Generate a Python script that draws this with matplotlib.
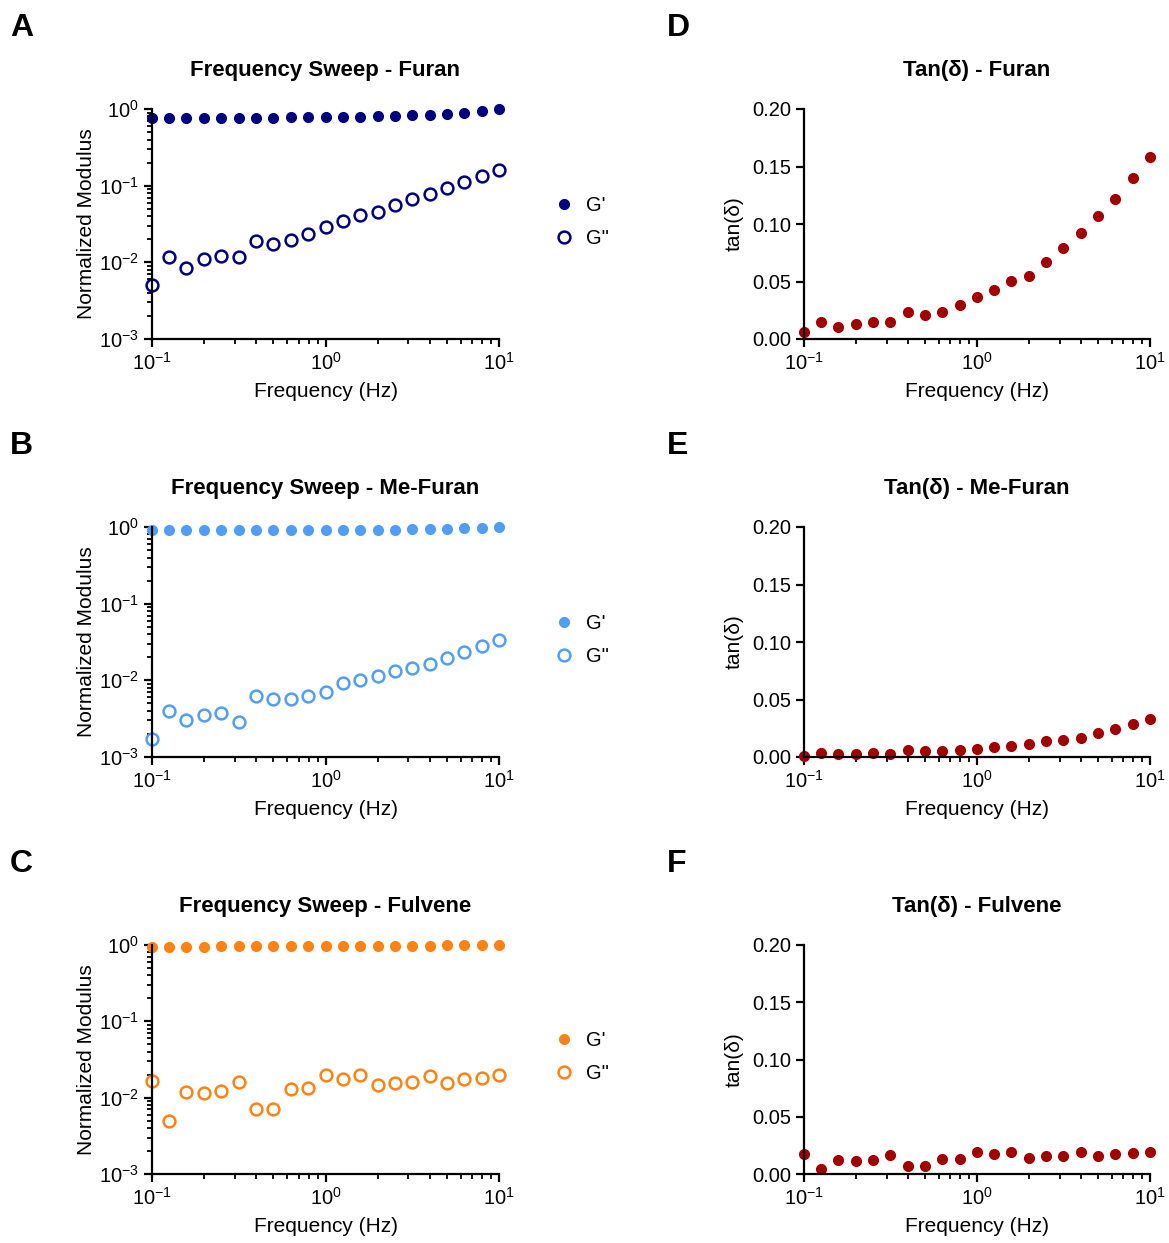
import matplotlib
matplotlib.use("Agg")
from matplotlib import pyplot as plt
from matplotlib import ticker

plt.rcParams['font.family'] = ['Liberation Sans', 'DejaVu Sans']
plt.rcParams['mathtext.fontset'] = 'custom'
plt.rcParams['mathtext.rm'] = 'Liberation Sans'
plt.rcParams['mathtext.it'] = 'Liberation Sans:italic'
plt.rcParams['axes.unicode_minus'] = False

# frequencies (Hz), 10 points per decade
freq = [0.1, 0.126, 0.158, 0.2, 0.251, 0.316, 0.398, 0.501, 0.631, 0.794,
        1.0, 1.26, 1.58, 2.0, 2.51, 3.16, 3.98, 5.01, 6.31, 7.94, 10.0]

# normalized storage / loss moduli
furan_g1 = [0.762, 0.762, 0.762, 0.762, 0.762, 0.762, 0.762, 0.762, 0.778, 0.778,
            0.786, 0.786, 0.794, 0.80, 0.818, 0.83, 0.843, 0.860, 0.886, 0.942, 1.0]
furan_g2 = [0.00513, 0.0119, 0.00849, 0.0111, 0.0122, 0.0119, 0.0189, 0.0171, 0.0193, 0.0236,
            0.0292, 0.0343, 0.0410, 0.0449, 0.0560, 0.0665, 0.0773, 0.0925, 0.110, 0.132, 0.158]
mefuran_g1 = [0.905, 0.905, 0.905, 0.905, 0.905, 0.905, 0.905, 0.905, 0.905, 0.905,
              0.905, 0.914, 0.914, 0.914, 0.923, 0.932, 0.941, 0.950, 0.960, 0.98, 1.0]
mefuran_g2 = [0.00173, 0.00403, 0.00308, 0.00354, 0.00372, 0.00287, 0.00621, 0.00567, 0.00567, 0.00621,
              0.00701, 0.00919, 0.00996, 0.01124, 0.01306, 0.01445, 0.01645, 0.01971, 0.02316, 0.02774, 0.0339]
fulvene_g1 = [0.932, 0.941, 0.950, 0.950, 0.960, 0.960, 0.960, 0.969, 0.969, 0.969,
              0.969, 0.969, 0.969, 0.969, 0.980, 0.980, 0.980, 0.99, 0.99, 0.99, 0.99]
fulvene_g2 = [0.01644, 0.00493, 0.01193, 0.01146, 0.01230, 0.01613, 0.00708, 0.00715, 0.01306, 0.01333,
              0.01972, 0.01766, 0.01972, 0.01445, 0.01534, 0.01597, 0.01933, 0.01534, 0.01766, 0.01837, 0.01972]

# tan(delta)
furan_tan = [0.0061, 0.0149, 0.0102, 0.0134, 0.0149, 0.0146, 0.0239, 0.0213, 0.0239, 0.0292,
             0.0364, 0.0426, 0.0504, 0.0551, 0.0673, 0.0793, 0.0918, 0.1067, 0.1219, 0.1402, 0.1586]
mefuran_tan = [0.0009, 0.0035, 0.0024, 0.0029, 0.0035, 0.0024, 0.0059, 0.0056, 0.0056, 0.0062,
               0.0068, 0.0088, 0.0100, 0.0115, 0.0135, 0.0150, 0.0168, 0.0206, 0.0241, 0.0285, 0.0332]
fulvene_tan = [0.0172, 0.0044, 0.0119, 0.0114, 0.0122, 0.0163, 0.0067, 0.0067, 0.0128, 0.0134,
               0.0195, 0.0175, 0.0195, 0.0143, 0.0157, 0.0160, 0.0189, 0.0154, 0.0172, 0.0180, 0.0192]

names = ['Furan', 'Me-Furan', 'Fulvene']
colors = ['#00007F', '#519EF4', '#FF8214']
g1_all = [furan_g1, mefuran_g1, fulvene_g1]
g2_all = [furan_g2, mefuran_g2, fulvene_g2]
tan_all = [furan_tan, mefuran_tan, fulvene_tan]
tan_color = '#A00000'

W, H = 1169, 1243
fig = plt.figure(figsize=(W / 100, H / 100), dpi=100)

# axes boxes in pixels: (x0, x1, ytop, ybottom)
left_x = (152, 499)
right_x = (804, 1150)
rows_y = [(109, 339), (527, 757), (945, 1174)]
letters_left = ['A', 'B', 'C']
letters_right = ['D', 'E', 'F']


def box(xs, ys):
    return [xs[0] / W, 1 - ys[1] / H, (xs[1] - xs[0]) / W, (ys[1] - ys[0]) / H]


def style(ax):
    for s in ['top', 'right']:
        ax.spines[s].set_visible(False)
    for s in ['left', 'bottom']:
        ax.spines[s].set_linewidth(1.6)
    ax.tick_params(which='major', length=6, width=1.6, direction='out', labelsize=14.5)
    ax.tick_params(which='minor', length=3.5, width=1.3, direction='out')
    ax.set_xscale('log')
    ax.set_xlim(0.1, 10)
    ax.xaxis.set_minor_locator(ticker.LogLocator(base=10, subs=range(2, 10)))
    ax.xaxis.set_minor_formatter(ticker.NullFormatter())


for i in range(3):
    # left: frequency sweep
    ax = fig.add_axes(box(left_x, rows_y[i]))
    style(ax)
    ax.set_yscale('log')
    ax.set_ylim(1e-3, 1)
    ax.yaxis.set_minor_locator(ticker.LogLocator(base=10, subs=range(2, 10)))
    ax.yaxis.set_minor_formatter(ticker.NullFormatter())
    ax.plot(freq, g1_all[i], 'o', color=colors[i], ms=7, clip_on=False, label="G'")
    ax.plot(freq, g2_all[i], 'o', mfc='white', mec=colors[i], mew=1.8, ms=8.5,
            clip_on=False, label='G"')
    ax.set_xlabel('Frequency (Hz)', fontsize=15, labelpad=6)
    ax.set_ylabel('Normalized Modulus', fontsize=15, labelpad=2)
    ax.set_title('Frequency Sweep - ' + names[i], fontsize=16, fontweight='bold', pad=24)
    ax.legend(loc='center left', bbox_to_anchor=(1.1, 0.51), frameon=False,
              fontsize=14.5, handletextpad=0.5, labelspacing=0.7, handlelength=1.2)

    # right: tan(delta)
    ax2 = fig.add_axes(box(right_x, rows_y[i]))
    style(ax2)
    ax2.set_ylim(0, 0.2)
    ax2.set_yticks([0, 0.05, 0.10, 0.15, 0.20])
    ax2.yaxis.set_major_formatter(ticker.FormatStrFormatter('%.2f'))
    ax2.plot(freq, tan_all[i], 'o', color=tan_color, ms=7, clip_on=False)
    ax2.set_xlabel('Frequency (Hz)', fontsize=15, labelpad=6)
    ax2.set_ylabel('tan(δ)', fontsize=15, labelpad=6)
    ax2.set_title('Tan(δ) - ' + names[i], fontsize=16, fontweight='bold', pad=24)

    ytop = rows_y[i][0]
    fig.text(10 / W, 1 - (ytop - 81) / H, letters_left[i], fontsize=23,
             fontweight='bold', ha='left', va='center')
    fig.text(667 / W, 1 - (ytop - 81) / H, letters_right[i], fontsize=23,
             fontweight='bold', ha='left', va='center')

fig.savefig('out.png', dpi=100)
